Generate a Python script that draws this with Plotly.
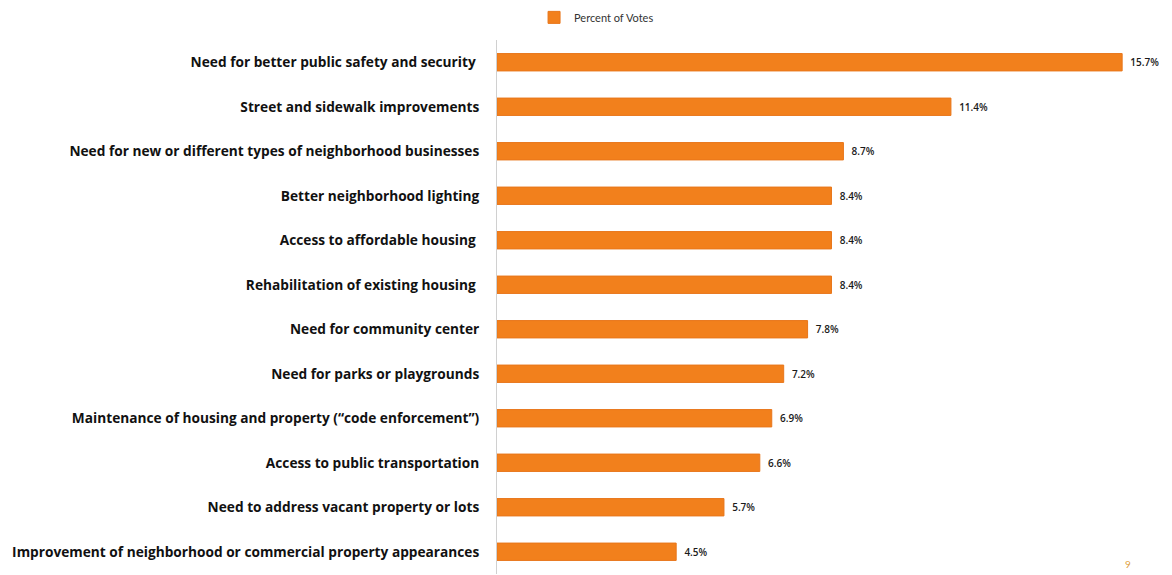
import plotly.graph_objects as go

categories = [
    "Need for better public safety and security ",
    "Street and sidewalk improvements",
    "Need for new or different types of neighborhood businesses",
    "Better neighborhood lighting",
    "Access to affordable housing ",
    "Rehabilitation of existing housing ",
    "Need for community center",
    "Need for parks or playgrounds",
    "Maintenance of housing and property (\u201ccode enforcement\u201d)",
    "Access to public transportation",
    "Need to address vacant property or lots",
    "Improvement of neighborhood or commercial property appearances",
]
values = [15.7, 11.4, 8.7, 8.4, 8.4, 8.4, 7.8, 7.2, 6.9, 6.6, 5.7, 4.5]
labels = [f"  {v:.1f}%" for v in values]

fig = go.Figure()
fig.add_trace(go.Bar(
    y=categories, x=values, orientation="h",
    name="Percent of Votes",
    marker=dict(color="#F2801C", line=dict(width=1, color="#E8761A")),
    width=0.39,
    text=labels, textposition="outside",
    textfont=dict(family="Open Sans", size=10, color="#1a1a1a", weight=600),
    cliponaxis=False,
))

fig.update_layout(
    width=1172, height=575,
    margin=dict(l=497, r=18, t=40, b=1),
    paper_bgcolor="white", plot_bgcolor="white",
    showlegend=True,
    legend=dict(orientation="h", xref="container", x=0.509, xanchor="center",
                yref="container", y=0.995, yanchor="top",
                font=dict(family="Lato", size=11, color="#333333"),
                itemwidth=30),
    xaxis=dict(range=[0, 16.5], visible=False, showgrid=False, zeroline=False),
    yaxis=dict(autorange="reversed", showgrid=False, showline=True,
               linecolor="#d0d0d0", linewidth=1, ticks="",
               ticklabelstandoff=14,
               tickfont=dict(family="Open Sans", size=13.7, color="#111111", weight="bold")),
    font=dict(family="Lato"),
    bargap=0.5,
)
fig.add_annotation(text="9", xref="paper", yref="paper", x=1.0, y=0.0,
                   xanchor="right", yanchor="bottom", xshift=-21, yshift=2,
                   showarrow=False,
                   font=dict(family="Lato", size=10, color="#E0A040"))

fig.write_html("out.html")
